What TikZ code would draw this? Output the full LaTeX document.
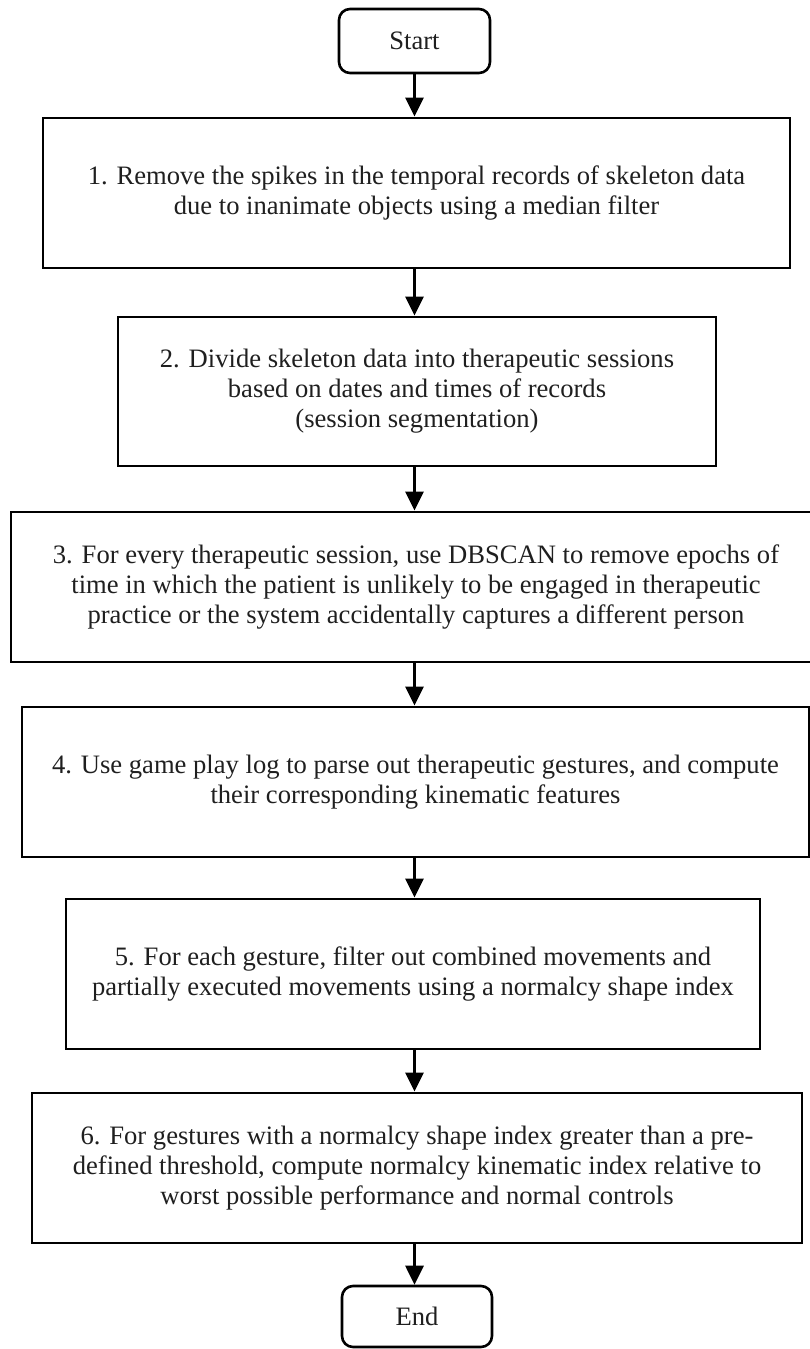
\documentclass[tikz,border=0pt]{standalone}
\usepackage{fontspec}
\setmainfont{Liberation Serif}
\usetikzlibrary{arrows.meta}
\tikzset{
  stepbox/.style={draw=black, line width=2.8pt, inner sep=0pt, align=center,
    font=\fontsize{26.6}{30}\selectfont, text=black!88},
  termbox/.style={stepbox, rounded corners=11pt, line width=2.6pt},
  flow/.style={draw=black, line width=2.8pt, -{Triangle[length=19pt,width=18pt]}}
}
\begin{document}
\begin{tikzpicture}[x=1pt,y=-1pt]
\useasboundingbox (0,0) rectangle (810,1349);
\node[termbox, minimum width=151pt, minimum height=64pt] (start) at (414.5,41) {Start};
\node[stepbox, minimum width=747pt, minimum height=150pt] (b1) at (416.5,193)
  {1. Remove the spikes in the temporal records of skeleton data\\due to inanimate objects using a median filter};
\node[stepbox, minimum width=598pt, minimum height=149pt] (b2) at (417,391.5)
  {2. Divide skeleton data into therapeutic sessions\\based on dates and times of records\\(session segmentation)};
\node[stepbox, minimum width=810pt, minimum height=150pt] (b3) at (416,587)
  {3. For every therapeutic session, use DBSCAN to remove epochs of\\time in which the patient is unlikely to be engaged in therapeutic\\practice or the system accidentally captures a different person};
\node[stepbox, minimum width=787pt, minimum height=150pt] (b4) at (415.5,782)
  {4. Use game play log to parse out therapeutic gestures, and compute\\their corresponding kinematic features};
\node[stepbox, minimum width=694pt, minimum height=150pt] (b5) at (413,974)
  {5. For each gesture, filter out combined movements and\\partially executed movements using a normalcy shape index};
\node[stepbox, minimum width=770pt, minimum height=150pt] (b6) at (417,1168)
  {6. For gestures with a normalcy shape index greater than a pre-\\defined threshold, compute normalcy kinematic index relative to\\worst possible performance and normal controls};
\node[termbox, minimum width=150pt, minimum height=61pt] (end) at (417,1316.5) {End};
\draw[flow] (start.south) -- (start.south |- b1.north);
\draw[flow] (b1.south -| start.south) -- (start.south |- b2.north);
\draw[flow] (b2.south -| start.south) -- (start.south |- b3.north);
\draw[flow] (b3.south -| start.south) -- (start.south |- b4.north);
\draw[flow] (b4.south -| start.south) -- (start.south |- b5.north);
\draw[flow] (b5.south -| start.south) -- (start.south |- b6.north);
\draw[flow] (b6.south -| start.south) -- (start.south |- end.north);
\end{tikzpicture}
\end{document}
